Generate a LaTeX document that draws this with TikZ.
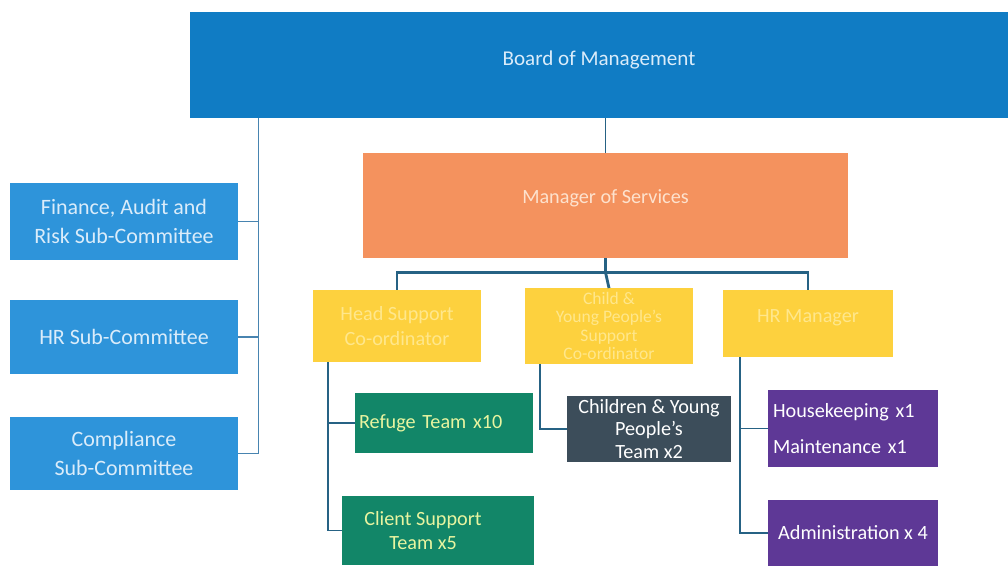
\documentclass[tikz,border=0pt]{standalone}
\usepackage{fontspec}
\setmainfont{Carlito}
\usetikzlibrary{positioning}
\definecolor{boardColor}{RGB}{16,124,196}
\definecolor{committeeColor}{RGB}{46,148,218}
\definecolor{managerColor}{RGB}{244,146,94}
\definecolor{leadColor}{RGB}{253,209,62}
\definecolor{teamColor}{RGB}{18,134,104}
\definecolor{childColor}{RGB}{60,77,90}
\definecolor{supportColor}{RGB}{94,56,150}
\definecolor{lineColor}{RGB}{38,98,132}
\definecolor{thinLineColor}{RGB}{72,132,176}
\definecolor{blueText}{RGB}{218,236,250}
\definecolor{orangeText}{RGB}{253,226,206}
\definecolor{yellowText}{RGB}{255,231,140}
\definecolor{greenText}{RGB}{232,244,160}
\tikzset{box/.style={draw=none, align=center, text=white, inner sep=2pt, font=\fontsize{11.5}{14}\selectfont}}
\tikzset{board/.style={box, fill=boardColor, text=blueText, font=\fontsize{12}{14}\selectfont}}
\tikzset{committee/.style={box, fill=committeeColor, text=blueText, minimum width=4.56cm, font=\fontsize{12.5}{16}\selectfont}}
\tikzset{manager/.style={box, fill=managerColor, text=orangeText}}
\tikzset{lead/.style={box, fill=leadColor, text=yellowText}}
\tikzset{team/.style={box, fill=teamColor, text=greenText}}
\tikzset{childteam/.style={box, fill=childColor, font=\fontsize{11.5}{13}\selectfont}}
\tikzset{support/.style={box, fill=supportColor, minimum width=3.4cm}}
\tikzset{link/.style={draw=lineColor, line width=1.1pt}}
\tikzset{thinlink/.style={draw=thinLineColor, line width=0.7pt}}

\begin{document}
\begin{tikzpicture}[x=0.02cm, y=-0.02cm]
\useasboundingbox (0,0) rectangle (1008,569);
% Nodes
\node (Board) [board, minimum width=16.36cm, minimum height=2.12cm] at (599,65) {\raisebox{8pt}{Board of Management}};
\node (ManagerServices) [manager, minimum width=9.7cm, minimum height=2.1cm] at (605.5,205.5) {\raisebox{10pt}{Manager of Services}};

\node (FinanceCommittee) [committee, minimum height=1.54cm] at (124,221.5) {Finance, Audit and\\ Risk Sub-Committee};
\node (HRCommittee) [committee, minimum height=1.48cm] at (124,337) {HR Sub-Committee};
\node (ComplianceCommittee) [committee, minimum height=1.46cm] at (124,453.5) {Compliance\\ Sub-Committee};

\node (LeadSupport) [lead, minimum width=3.36cm, minimum height=1.44cm] at (397,326) {Head Support\\ Co-ordinator};
\node (ChildLead) [lead, minimum width=3.36cm, minimum height=1.44cm, font=\fontsize{10}{10.6}\selectfont] at (609,326) {Child \&\\ Young People's\\ Support\\ Co-ordinator};
\node (HRManager) [lead, minimum width=3.4cm, minimum height=1.34cm] at (808,323.5) {\raisebox{8pt}{HR Manager}};

\node (RefugeTeam) [team, minimum width=3.56cm, minimum height=1.2cm, text width=3.4cm, align=left] at (444,423) {Refuge Team x10};
\node (ClientSupport) [team, minimum width=3.84cm, minimum height=1.38cm] at (438,530.5) {\hspace*{-0.6cm}Client Support\\ \hspace*{-0.6cm}Team x5};
\node (ChildrenTeam) [childteam, minimum width=3.28cm, minimum height=1.32cm] at (649,429) {Children \& Young\\ People's\\ Team x2};

\node (Housekeeping) [support, minimum height=1.54cm, text width=3.2cm, align=left] at (853,428.5) {Housekeeping x1\\[6pt] Maintenance x1};
\node (Administration) [support, minimum height=1.32cm] at (853,533) {Administration x 4};

% Spines
\coordinate (CommitteeSpine) at ([xshift=1.38cm]Board.south west);
\coordinate (LeadSpine) at ([xshift=0.3cm]LeadSupport.south west);
\coordinate (ChildSpine) at ([xshift=0.3cm]ChildLead.south west);
\coordinate (HRSpine) at ([xshift=0.34cm]HRManager.south west);

% Connectors
\begin{scope}[link]
\draw (ManagerServices.north) -- (ManagerServices.north |- Board.south);

\draw [thinlink] (CommitteeSpine) |- (ComplianceCommittee.east);
\draw [thinlink] (FinanceCommittee.east) -- (FinanceCommittee.east -| CommitteeSpine);
\draw [thinlink] (HRCommittee.east) -- (HRCommittee.east -| CommitteeSpine);

\draw [line width=1.6pt] (ManagerServices.south) -- ++(0,14) coordinate (Bus);
\draw [line width=1.6pt] (LeadSupport.north) |- (Bus) -| (HRManager.north);
\draw [line width=1.6pt] (Bus) -- (ChildLead.north);

\draw (LeadSpine) |- (ClientSupport.west);
\draw (RefugeTeam.west) -- (RefugeTeam.west -| LeadSpine);

\draw (ChildSpine) |- (ChildrenTeam.west);

\draw (HRSpine) |- (Administration.west);
\draw (Housekeeping.west) -- (Housekeeping.west -| HRSpine);
\end{scope}

\end{tikzpicture}
\end{document}
